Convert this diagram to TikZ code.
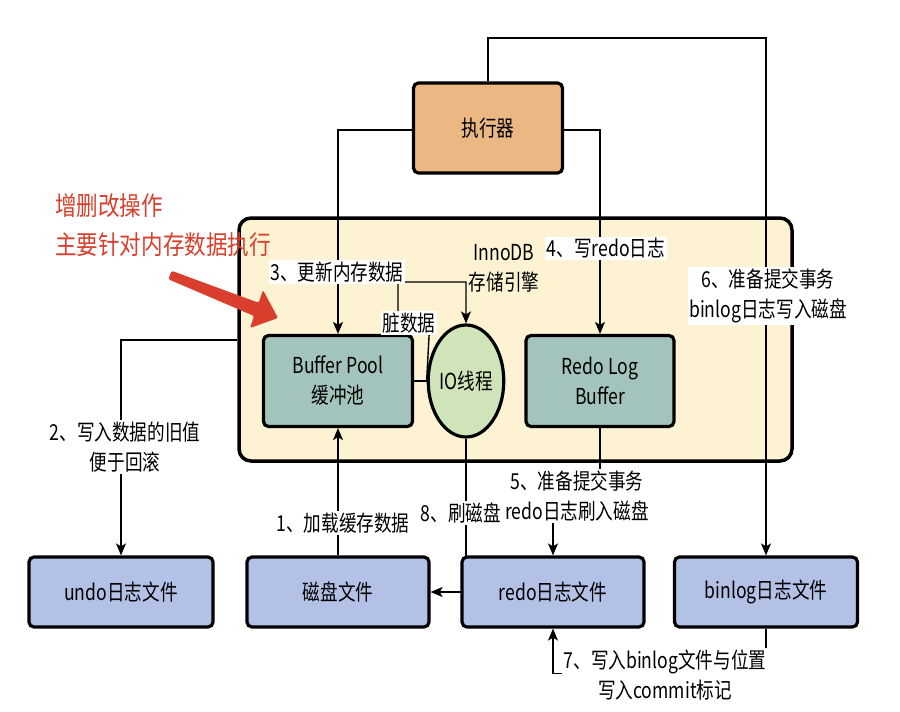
\documentclass[tikz,border=0pt]{standalone}
\usepackage{fontspec}
\setmainfont{Noto Sans CJK SC}[FakeStretch=0.8]
\newfontfamily\redfont{Noto Sans CJK SC}[FakeStretch=0.83]
\usetikzlibrary{arrows.meta,shapes.geometric}
\definecolor{execc}{HTML}{EBB883}
\definecolor{innoc}{HTML}{FDF3D3}
\definecolor{tealc}{HTML}{A3C4BC}
\definecolor{greenc}{HTML}{CFE4B8}
\definecolor{bluec}{HTML}{B3C1E6}
\definecolor{redc}{HTML}{DA3F2D}
\begin{document}
\begin{tikzpicture}[x=1pt,y=-1pt,
  box/.style={draw=black,line width=3.2pt,rounded corners=5pt,align=center,
    font=\fontsize{22}{30}\selectfont,inner sep=0pt},
  lbl/.style={fill=white,align=center,font=\fontsize{22}{30}\selectfont,inner sep=1.5pt},
  conn/.style={draw=black,line width=1.4pt},
  arr/.style={conn,-{Stealth[length=12pt,width=10pt,inset=3pt]}}]
\useasboundingbox[fill=white] (0,0) rectangle (900,712);
% InnoDB container
\node[draw=black,line width=3.5pt,rounded corners=12pt,fill=innoc,
  minimum width=553pt,minimum height=243pt,inner sep=0pt] (inno) at (515.5,339.5) {};
% nodes
\node[box,fill=execc,minimum width=149pt,minimum height=90pt] (exec) at (488,128) {执行器};
\node[box,fill=tealc,minimum width=149pt,minimum height=91pt] (bp) at (338,381) {Buffer Pool\\缓冲池};
\node[box,fill=tealc,minimum width=148pt,minimum height=91pt] (rlb) at (600,381) {Redo Log\\Buffer};
\node[draw=black,line width=3.2pt,ellipse,fill=greenc,minimum width=72pt,minimum height=112pt,
  inner sep=0pt,font=\fontsize{22}{30}\selectfont] (io) at (466,381) {IO线程};
\node[box,fill=bluec,minimum width=184pt,minimum height=70pt] (undo) at (121,592) {undo日志文件};
\node[box,fill=bluec,minimum width=182pt,minimum height=70pt] (disk) at (338,592) {磁盘文件};
% 8: IO thread flushes to disk file (drawn before the redo box, which hides its lower part)
\draw[arr] (io.south) |- (disk.east);
\node[box,fill=bluec,minimum width=182pt,minimum height=70pt] (redo) at (553,592) {redo日志文件};
\node[box,fill=bluec,minimum width=183pt,minimum height=70pt] (binlog) at (766,592) {binlog日志文件};
% connectors
\draw[arr] (disk.north) -- (bp.south);
\draw[arr] (inno.west |- 0,340) -| (undo.north);
\draw[arr] (exec.west |- 0,130) -| (bp.north);
\draw[arr] (exec.east |- 0,130) -| (rlb.north);
\draw[arr] (rlb.south) -- ++(0,69) -| (redo.north);
\draw[arr] (exec.north) |- (binlog.north |- 0,38) -- (binlog.north);
\draw[arr] (binlog.south) -- ++(0,45) -| (redo.south);
\draw[conn] (bp.east) -- (io.west);
\draw[arr] (io.west) -- (430,318) -- (398,318) -- (398,282) -- (466,282) -- (io.north);
% labels
\node[lbl] (l3) at (337,272) {3、更新内存数据};
\node[lbl] (ld) at (409,323) {脏数据};
\node[align=center,font=\fontsize{22}{30}\selectfont,inner sep=1pt] (linno) at (504,268) {InnoDB\\存储引擎};
\node[lbl] (l4) at (606,248) {4、写redo日志};
\node[lbl] (l6) at (768,296) {6、准备提交事务\\binlog日志写入磁盘};
\node[lbl] (l2) at (125,447) {2、写入数据的旧值\\便于回滚};
\node[lbl] (l1) at (343,523) {1、加载缓存数据};
\node[lbl] (l8) at (461,513) {8、刷磁盘};
\node[lbl] (l5) at (577,496) {5、准备提交事务\\redo日志刷入磁盘};
\node[lbl] (l7) at (665,675) {7、写入binlog文件与位置\\写入commit标记};
% red annotation
\node[anchor=west,text=redc,font=\redfont\fontsize{26}{39}\selectfont,align=left,inner sep=0pt] (note) at (55,225)
  {增删改操作\\主要针对内存数据执行};
\fill[redc,rounded corners=1.5pt] (171.7,270.8) -- (258.7,302.8) -- (263,290) -- (278,318)
  -- (250,328) -- (254.1,316.0) -- (168.3,279.2) -- cycle;
\end{tikzpicture}
\end{document}
